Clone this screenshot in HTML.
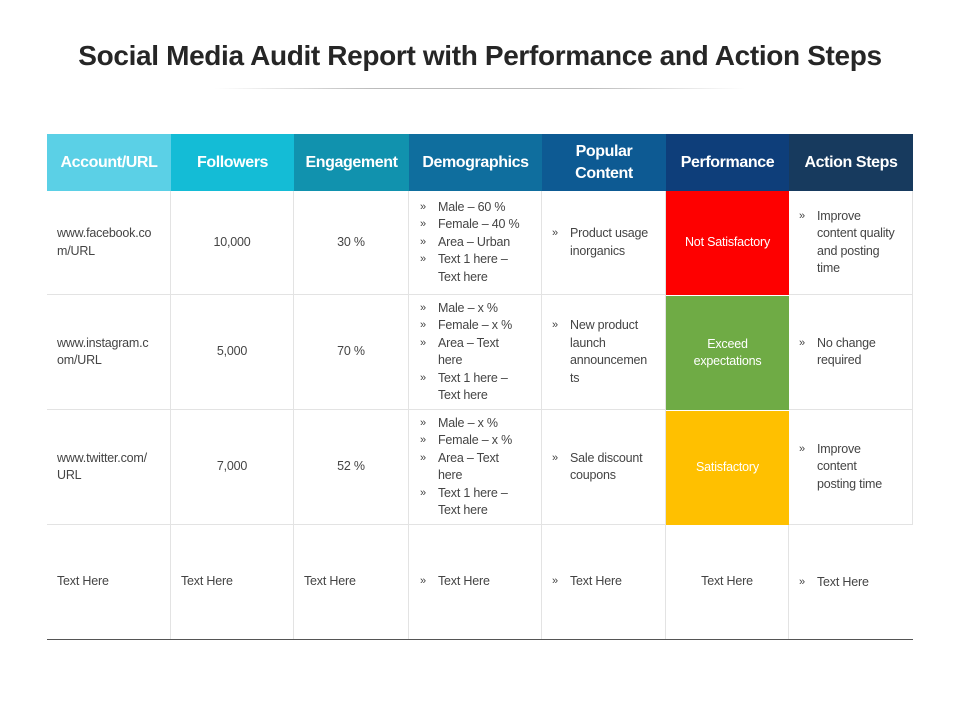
<!DOCTYPE html>
<html><head><meta charset="utf-8"><style>
body{margin:0;width:960px;height:720px;background:#fff;position:relative;font-family:"Liberation Sans",sans-serif;overflow:hidden}
h1{position:absolute;left:0;width:960px;top:40px;margin:0;text-align:center;font-size:28px;font-weight:bold;color:#262626;letter-spacing:-0.35px}
.rule{position:absolute;left:215px;width:530px;top:88px;height:1px;background:linear-gradient(90deg,#fff,#bbb 30%,#bbb 70%,#fff)}
.c{position:absolute;box-sizing:border-box;display:flex;align-items:center;font-size:12.5px;color:#444;line-height:17.5px;letter-spacing:-0.2px}
.h{color:#fff;font-weight:bold;font-size:16px;justify-content:center;text-align:center;line-height:22px;letter-spacing:-0.4px}
.ctr{justify-content:center;text-align:center}
.b{border-right:1px solid #e3e3e3;border-bottom:1px solid #e3e3e3}
ul{list-style:none;margin:0;padding:0}
li{position:relative;padding-left:20px;white-space:nowrap}
li:before{content:"»";position:absolute;left:2px;font-size:11px}
</style></head><body>
<h1>Social Media Audit Report with Performance and Action Steps</h1>
<div class="rule"></div>

<div class="c h" style="left:47px;top:134px;width:124px;height:57px;background:#5bd0e6">Account/URL</div>
<div class="c h" style="left:171px;top:134px;width:123px;height:57px;background:#14bcd6">Followers</div>
<div class="c h" style="left:294px;top:134px;width:115px;height:57px;background:#1192ae">Engagement</div>
<div class="c h" style="left:409px;top:134px;width:133px;height:57px;background:#0f6e9e">Demographics</div>
<div class="c h" style="left:542px;top:134px;width:124px;height:57px;background:#0d5a93">Popular<br>Content</div>
<div class="c h" style="left:666px;top:134px;width:123px;height:57px;background:#0e3e7a">Performance</div>
<div class="c h" style="left:789px;top:134px;width:124px;height:57px;background:#173a5e">Action Steps</div>

<div class="c b" style="left:47px;top:191px;width:124px;height:104px;padding-left:10px">www.facebook.co<br>m/URL</div>
<div class="c b ctr" style="left:171px;top:191px;width:123px;height:104px">10,000</div>
<div class="c b ctr" style="left:294px;top:191px;width:115px;height:104px">30 %</div>
<div class="c b" style="left:409px;top:191px;width:133px;height:104px;padding-left:9px"><ul><li>Male – 60 %</li><li>Female – 40 %</li><li>Area – Urban</li><li>Text 1 here –<br>Text here</li></ul></div>
<div class="c b" style="left:542px;top:191px;width:124px;height:104px;padding-left:8px"><ul><li>Product usage<br>inorganics</li></ul></div>
<div class="c ctr" style="left:666px;top:191px;width:123px;height:104px;background:#fe0000;color:#fff">Not Satisfactory</div>
<div class="c b" style="left:789px;top:191px;width:124px;height:104px;padding-left:8px"><ul><li>Improve<br>content quality<br>and posting<br>time</li></ul></div>

<div class="c b" style="left:47px;top:295px;width:124px;height:115px;padding-left:10px">www.instagram.c<br>om/URL</div>
<div class="c b ctr" style="left:171px;top:295px;width:123px;height:115px">5,000</div>
<div class="c b ctr" style="left:294px;top:295px;width:115px;height:115px">70 %</div>
<div class="c b" style="left:409px;top:295px;width:133px;height:115px;padding-left:9px"><ul><li>Male – x %</li><li>Female – x %</li><li>Area – Text<br>here</li><li>Text 1 here –<br>Text here</li></ul></div>
<div class="c b" style="left:542px;top:295px;width:124px;height:115px;padding-left:8px"><ul><li>New product<br>launch<br>announcemen<br>ts</li></ul></div>
<div class="c ctr" style="left:666px;top:296px;width:123px;height:114px;background:#6fab45;color:#fff">Exceed<br>expectations</div>
<div class="c b" style="left:789px;top:295px;width:124px;height:115px;padding-left:8px"><ul><li>No change<br>required</li></ul></div>

<div class="c b" style="left:47px;top:410px;width:124px;height:115px;padding-left:10px">www.twitter.com/<br>URL</div>
<div class="c b ctr" style="left:171px;top:410px;width:123px;height:115px">7,000</div>
<div class="c b ctr" style="left:294px;top:410px;width:115px;height:115px">52 %</div>
<div class="c b" style="left:409px;top:410px;width:133px;height:115px;padding-left:9px"><ul><li>Male – x %</li><li>Female – x %</li><li>Area – Text<br>here</li><li>Text 1 here –<br>Text here</li></ul></div>
<div class="c b" style="left:542px;top:410px;width:124px;height:115px;padding-left:8px"><ul><li>Sale discount<br>coupons</li></ul></div>
<div class="c ctr" style="left:666px;top:411px;width:123px;height:114px;background:#ffc000;color:#fff">Satisfactory</div>
<div class="c b" style="left:789px;top:410px;width:124px;height:115px;padding-left:8px"><ul><li>Improve<br>content<br>posting time</li></ul></div>

<div class="c b" style="left:47px;top:525px;width:124px;height:115px;padding-left:10px">Text Here</div>
<div class="c b" style="left:171px;top:525px;width:123px;height:115px;padding-left:10px">Text Here</div>
<div class="c b" style="left:294px;top:525px;width:115px;height:115px;padding-left:10px">Text Here</div>
<div class="c b" style="left:409px;top:525px;width:133px;height:115px;padding-left:9px"><ul><li>Text Here</li></ul></div>
<div class="c b" style="left:542px;top:525px;width:124px;height:115px;padding-left:8px"><ul><li>Text Here</li></ul></div>
<div class="c b ctr" style="left:666px;top:525px;width:123px;height:115px">Text Here</div>
<div class="c" style="left:789px;top:525px;width:124px;height:115px;padding-left:8px"><ul><li>Text Here</li></ul></div>
<div style="position:absolute;left:47px;top:639px;width:866px;height:1px;background:#555"></div>
</body></html>
